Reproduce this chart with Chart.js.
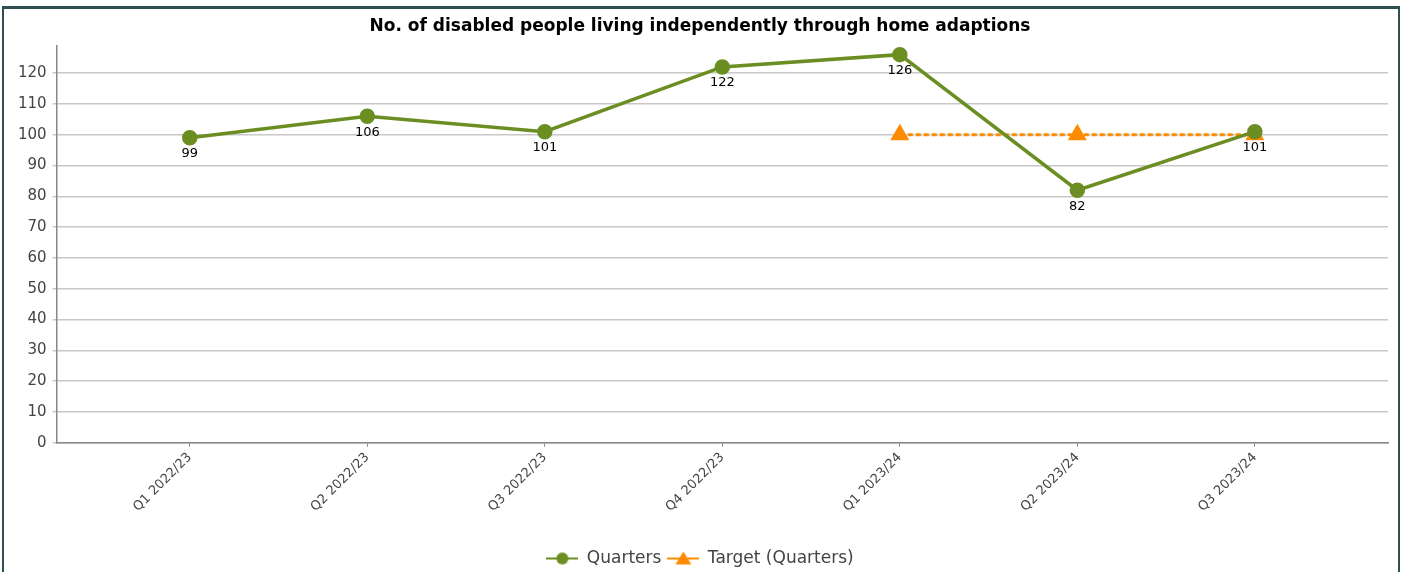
<!DOCTYPE html>
<html>
	<head>
		<meta charset="UTF-8">
		<title></title>
		<script src="https://cdn.jsdelivr.net/npm/chart.js@4.4.0/dist/chart.umd.min.js"></script>
		<style type="text/css">
			*{
				margin: 0;
				padding: 0;
			}
			body{
				background: white;
				width: 1402px;
				height: 572px;
				overflow: hidden;
				position: relative;
			}
			#frame{
				position: absolute;
				left: 2px;
				top: 6px;
				width: 1394px;
				height: 580px;
				border-top: 3px solid #2e4f4f;
				border-left: 2px solid #2e4f4f;
				border-right: 2px solid #2e4f4f;
				pointer-events: none;
			}
			#wrap{
				position: absolute;
				left: 0;
				top: 0;
				width: 1402px;
				height: 572px;
			}
		</style>
	</head>
	<body>
		<div id="wrap"><canvas id="showChart"></canvas></div>
		<div id="frame"></div>

		<script type="text/javascript">
			var quarters=["Q1 2022/23","Q2 2022/23","Q3 2022/23","Q4 2022/23","Q1 2023/24","Q2 2023/24","Q3 2023/24"];
			var actual=[99,106,101,122,126,82,101];
			var target=[null,null,null,null,100,100,100];
			var yTicks=[0,10,20,30,40,50,60,70,80,90,100,110,120];

			var green="#6b8e23";
			var orange="#ff8c00";
			var font="'DejaVu Sans', Verdana, sans-serif";

			function toPoints(arr){
				var out=[];
				arr.forEach((v,i)=>{
					if(v!==null) out.push({x:i,y:v});
				});
				return out;
			}

			// little line+marker pictures for the legend
			function legendIcon(kind,color){
				var c=document.createElement("canvas");
				c.width=32;c.height=14;
				var g=c.getContext("2d");
				g.strokeStyle=color;g.fillStyle=color;g.lineWidth=2;
				g.beginPath();g.moveTo(0,7);g.lineTo(32,7);g.stroke();
				g.beginPath();
				if(kind=="circle"){
					g.arc(16,7,6,0,Math.PI*2);
				}else{
					g.moveTo(16,0);g.lineTo(24,13);g.lineTo(8,13);g.closePath();
				}
				g.fill();
				return c;
			}
			var icons=[legendIcon("circle",green),legendIcon("triangle",orange)];

			var valueLabels={
				id:"valueLabels",
				afterDatasetsDraw(chart){
					var ctx=chart.ctx;
					var meta=chart.getDatasetMeta(0);
					ctx.save();
					ctx.fillStyle="#000";
					ctx.font="13px "+font;
					ctx.textAlign="center";
					ctx.textBaseline="middle";
					meta.data.forEach((pt,i)=>{
						ctx.fillText(String(actual[i]),pt.x,pt.y+16);
					});
					ctx.restore();
				}
			};

			var ctx=document.getElementById("showChart").getContext("2d");
			new Chart(ctx,{
				type:"line",
				data:{
					datasets:[
						{
							label:"Quarters",
							data:toPoints(actual),
							borderColor:green,
							backgroundColor:green,
							borderWidth:3.5,
							pointRadius:6,
							pointHoverRadius:6,
							pointStyle:"circle",
							tension:0
						},
						{
							label:"Target (Quarters)",
							data:toPoints(target),
							borderColor:orange,
							backgroundColor:orange,
							borderWidth:3,
							borderDash:[5,3],
							pointRadius:8,
							pointHoverRadius:8,
							pointStyle:"triangle",
							tension:0
						}
					]
				},
				options:{
					responsive:true,
					maintainAspectRatio:false,
					animation:false,
					layout:{padding:{left:12,right:14,top:5,bottom:-5}},
					plugins:{
						title:{
							display:true,
							text:"No. of disabled people living independently through home adaptions",
							color:"#000",
							font:{family:font,size:17,weight:"bold"},
							padding:{top:11,bottom:9}
						},
						legend:{
							position:"bottom",
							labels:{
								usePointStyle:true,
								pointStyleWidth:32,
								color:"#444",
								font:{family:font,size:17},
								padding:6,
								generateLabels(chart){
									return chart.data.datasets.map((ds,i)=>({
										text:ds.label,
										pointStyle:icons[i],
										fillStyle:ds.borderColor,
										strokeStyle:ds.borderColor,
										lineWidth:0,
										fontColor:"#444",
										datasetIndex:i
									}));
								}
							}
						},
						tooltip:{enabled:false}
					},
					scales:{
						x:{
							type:"linear",
							min:-0.75,
							max:6.75,
							afterBuildTicks(scale){
								scale.ticks=quarters.map((q,i)=>({value:i}));
							},
							afterFit(scale){
								scale.height+=26;
							},
							ticks:{
								autoSkip:false,
								maxRotation:45,
								minRotation:45,
								color:"#444",
								font:{family:font,size:13},
								callback:function(v){return quarters[v];}
							},
							grid:{drawOnChartArea:false,drawTicks:true,tickLength:4,color:"#888"},
							border:{display:true,color:"#888",width:1.5}
						},
						y:{
							min:0,
							max:129,
							afterBuildTicks(scale){
								scale.ticks=yTicks.map(v=>({value:v}));
							},
							ticks:{
								color:"#444",
								font:{family:font,size:15},
								padding:6
							},
							grid:{color:"#c8c8c8",lineWidth:1.5,tickLength:4},
							border:{display:true,color:"#888",width:1.5}
						}
					}
				},
				plugins:[valueLabels]
			});
		</script>
	</body>
</html>
